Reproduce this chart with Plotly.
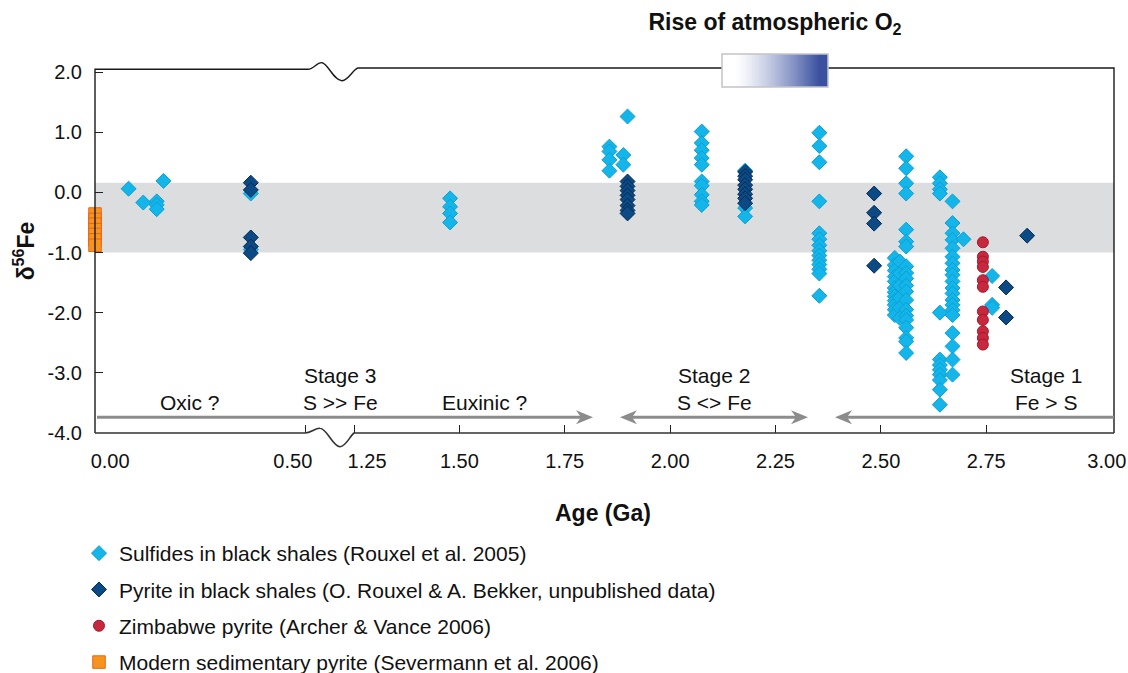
import plotly.graph_objects as go

FONT = "Liberation Sans, Arial, Helvetica, sans-serif"

# ---------------- data: age (Ga) and d56Fe (permil) ----------------
# Sulfides in black shales (Rouxel et al. 2005)
sulf_age = [0.080, 0.115, 0.147, 0.147, 0.147, 0.163, 0.371, 0.371,
            1.478, 1.478, 1.478, 1.478,
            1.856, 1.856, 1.856, 1.856, 1.889, 1.889, 1.899,
            2.075, 2.075, 2.075, 2.075, 2.075, 2.075, 2.075, 2.075, 2.075, 2.075,
            2.178, 2.178, 2.178,
            2.354, 2.354, 2.354, 2.354, 2.354, 2.354, 2.354, 2.354, 2.354, 2.354,
            2.354, 2.354, 2.354, 2.354,
            2.533, 2.533, 2.533, 2.533, 2.533, 2.533, 2.533, 2.533, 2.533, 2.533,
            2.533, 2.533,
            2.545, 2.545, 2.545, 2.545, 2.545, 2.545,
            2.560, 2.560, 2.560, 2.560, 2.560, 2.560, 2.560, 2.560, 2.560, 2.560,
            2.560, 2.560, 2.560, 2.560, 2.560, 2.560, 2.560, 2.560, 2.560, 2.560,
            2.640, 2.640, 2.640, 2.640, 2.640, 2.640, 2.640, 2.640, 2.640, 2.640,
            2.640, 2.640,
            2.670, 2.670, 2.670, 2.670, 2.670, 2.670, 2.670, 2.670, 2.670, 2.670,
            2.670, 2.670, 2.670, 2.670, 2.670, 2.670, 2.670, 2.670, 2.670, 2.670,
            2.696,
            2.764, 2.764, 2.764]
sulf_d56 = [0.06, -0.17, -0.15, -0.21, -0.28, 0.19, -0.02, -0.95,
            -0.10, -0.24, -0.35, -0.50,
            0.76, 0.68, 0.54, 0.36, 0.62, 0.46, 1.26,
            1.01, 0.82, 0.70, 0.57, 0.46, 0.18, 0.11, -0.04, -0.15, -0.21,
            0.36, -0.26, -0.40,
            0.99, 0.77, 0.50, -0.15, -0.68, -0.78, -0.88, -0.97, -1.05, -1.13,
            -1.20, -1.28, -1.35, -1.72,
            -1.09, -1.21, -1.30, -1.40, -1.48, -1.59, -1.66, -1.73, -1.80, -1.87,
            -1.95, -2.04,
            -1.15, -1.35, -1.55, -1.75, -1.92, -2.09,
            0.60, 0.40, 0.15, -0.02, -0.62, -0.82, -0.90, -1.23, -1.34, -1.43,
            -1.55, -1.65, -1.79, -1.95, -2.05, -2.12, -2.25, -2.42, -2.48, -2.67,
            0.25, 0.15, 0.05, -0.02, -2.00, -2.78, -2.87, -2.95, -3.03, -3.12,
            -3.28, -3.53,
            -0.15, -0.51, -0.68, -0.79, -0.93, -1.07, -1.18, -1.29, -1.37, -1.48,
            -1.59, -1.68, -1.79, -1.87, -1.96, -2.04, -2.34, -2.56, -2.78, -3.03,
            -0.78,
            -1.39, -1.87, -1.92]

# Pyrite in black shales (O. Rouxel & A. Bekker, unpublished data)
pyr_age = [0.371, 0.371, 0.371, 0.371, 0.371,
           1.899, 1.899, 1.899, 1.899, 1.899, 1.899, 1.899, 1.899,
           2.178, 2.178, 2.178, 2.178, 2.178, 2.178, 2.178, 2.178,
           2.484, 2.484, 2.484, 2.484,
           2.797, 2.797, 2.847]
pyr_d56 = [0.16, 0.04, -0.75, -0.90, -1.01,
           0.18, 0.10, 0.03, -0.05, -0.12, -0.22, -0.30, -0.35,
           0.34, 0.27, 0.21, 0.12, 0.05, -0.03, -0.10, -0.18,
           -0.02, -0.34, -0.52, -1.22,
           -1.58, -2.08, -0.72]

# Zimbabwe pyrite (Archer & Vance 2006)
zim_age = [2.742, 2.742, 2.742, 2.742, 2.742, 2.742, 2.742, 2.742, 2.742, 2.742, 2.742]
zim_d56 = [-0.83, -1.07, -1.15, -1.24, -1.46, -1.57, -1.98, -2.12, -2.31, -2.42, -2.53]

# Modern sedimentary pyrite (Severmann et al. 2006)
mod_age = [0.0, 0.0, 0.0, 0.0, 0.0, 0.0, 0.0]
mod_d56 = [-0.36, -0.45, -0.53, -0.62, -0.70, -0.79, -0.88]

# axis tick labels
y_ticks = [-4, -3, -2, -1, 0, 1, 2]
y_ticktext = ["-4.0", "-3.0", "-2.0", "-1.0", "0.0", "1.0", "2.0"]
xl_marks = [0.5]
xl_labelpos = [0.036, 0.471]
xl_labels = ["0.00", "0.50"]
xr_marks = [1.25, 1.50, 1.75, 2.00, 2.25, 2.50, 2.75]
xr_labelpos = [1.281, 1.50, 1.75, 2.00, 2.25, 2.50, 2.75, 3.036]
xr_labels = ["1.25", "1.50", "1.75", "2.00", "2.25", "2.50", "2.75", "3.00"]

# ---------------- geometry helpers (pixel -> paper) ----------------
W, H = 1128, 673
L, R, T, B = 95, 14, 69, 240
PW, PH = W - L - R, H - T - B


def px(x):
    return (x - L) / PW


def py(y):
    return (T + PH - y) / PH


BREAK_HI = 0.5
BREAK_LO = 1.25
XR_SCALE = 421.5  # px per Ga on the right-hand segment

series = [
    dict(name="Sulfides in black shales (Rouxel et al. 2005)", age=sulf_age, val=sulf_d56,
         marker=dict(symbol="diamond", size=11.5, color="#14b6e9",
                     line=dict(color="#0a9fd6", width=1))),
    dict(name="Pyrite in black shales (O. Rouxel & A. Bekker, unpublished data)", age=pyr_age,
         val=pyr_d56,
         marker=dict(symbol="diamond", size=11.5, color="#0b4a85",
                     line=dict(color="#042b52", width=1))),
    dict(name="Zimbabwe pyrite (Archer & Vance 2006)", age=zim_age, val=zim_d56,
         marker=dict(symbol="circle", size=11, color="#c8283d",
                     line=dict(color="#a01a2e", width=1))),
    dict(name="Modern sedimentary pyrite (Severmann et al. 2006)", age=mod_age, val=mod_d56,
         marker=dict(symbol="square", size=12.5, color="#f7941d",
                     line=dict(color="#e5641a", width=1))),
]

fig = go.Figure()
for s in series:
    shown = False
    for xa, keep in (("x", lambda a: a <= BREAK_HI), ("x2", lambda a: a >= BREAK_LO)):
        pts = [(a, v) for a, v in zip(s["age"], s["val"]) if keep(a)]
        if not pts:
            continue
        fig.add_trace(go.Scatter(
            x=[p[0] for p in pts], y=[p[1] for p in pts], mode="markers",
            xaxis=xa, yaxis="y", name=s["name"], legendgroup=s["name"],
            showlegend=not shown, marker=s["marker"], cliponaxis=False,
        ))
        shown = True

axis_common = dict(showgrid=False, zeroline=False, showline=False, anchor="y",
                   tickfont=dict(family=FONT, size=20, color="#111"),
                   ticks="", ticklabelstandoff=14, automargin=False)

fig.update_layout(
    width=W, height=H, autosize=False,
    margin=dict(l=L, r=R, t=T, b=B, pad=0, autoexpand=False),
    paper_bgcolor="white", plot_bgcolor="white",
    font=dict(family=FONT, color="#111"),
    title=dict(text="<b>Rise of atmospheric O<sub>2</sub></b>", x=px(775), xref="paper",
               xanchor="center", y=1 - 22 / H, yref="container", yanchor="middle",
               font=dict(family=FONT, size=23, color="#111")),
    showlegend=True,
    legend=dict(x=px(79), y=py(533), xanchor="left", yanchor="top",
                font=dict(family=FONT, size=21, color="#111"),
                tracegroupgap=6, bgcolor="rgba(0,0,0,0)", traceorder="grouped"),
    xaxis=dict(domain=[0, px(305)], range=[0, 0.5],
               tickmode="array", tickvals=xl_labelpos, ticktext=xl_labels,
               minor=dict(tickmode="array", tickvals=xl_marks, ticks="inside",
                          ticklen=8, tickwidth=1.2, tickcolor="#222"),
               **axis_common),
    xaxis2=dict(domain=[px(354), 1], range=[1.25, 1.25 + (1114 - 354) / XR_SCALE],
                tickmode="array", tickvals=xr_labelpos, ticktext=xr_labels,
                minor=dict(tickmode="array", tickvals=xr_marks, ticks="inside",
                           ticklen=8, tickwidth=1.2, tickcolor="#222"),
                **axis_common),
    yaxis=dict(range=[-4, 2.05], domain=[0, 1], showgrid=False, zeroline=False,
               showline=False, tickmode="array", tickvals=y_ticks, ticktext=y_ticktext,
               ticks="inside", ticklen=8, tickwidth=1.2, tickcolor="#222",
               tickfont=dict(family=FONT, size=20, color="#111"), ticklabelstandoff=12,
               automargin=False,
               title=dict(text="<b>δ<sup>56</sup>Fe</b>", standoff=6,
                          font=dict(family=FONT, size=23, color="#111"))),
)

shapes = []
# grey band
shapes.append(dict(type="rect", xref="paper", yref="y", x0=0, x1=1, y0=-1.0, y1=0.16,
                   fillcolor="#dcdddf", line=dict(width=0), layer="below"))


def P(x, y):
    return f"{px(x):.5f},{py(y):.5f}"


frame_col = "#1a1a1a"
top_path = (f"M{P(95, 433)} L{P(95, 69.3)} L{P(308, 69.3)} "
            f"C{P(314, 69)} {P(317, 62)} {P(322, 62.7)} "
            f"C{P(328, 63.5)} {P(334, 81)} {P(342, 80.7)} "
            f"C{P(349, 80.4)} {P(353, 69)} {P(358, 68)} L{P(722, 68)}")
shapes.append(dict(type="path", xref="paper", yref="paper", path=top_path,
                   line=dict(color=frame_col, width=1.4), layer="above"))
shapes.append(dict(type="path", xref="paper", yref="paper",
                   path=f"M{P(828, 68)} L{P(1114, 68)} L{P(1114, 433)}",
                   line=dict(color=frame_col, width=1.4), layer="above"))
bot_path = (f"M{P(95, 433)} L{P(305, 433)} "
            f"C{P(311, 433)} {P(315, 428)} {P(320, 428.3)} "
            f"C{P(327, 428.5)} {P(333, 447)} {P(340, 446.7)} "
            f"C{P(346, 446.5)} {P(350, 436)} {P(354, 433)} L{P(1114, 433)}")
shapes.append(dict(type="path", xref="paper", yref="paper", path=bot_path,
                   line=dict(color="#333", width=1.6), layer="above"))

# stage arrows (grey, barbed heads)
AR_Y = 417.3
AR_COL = "#8c8c8c"


def head(tip, direction):
    d = direction
    return (f"M{P(tip, AR_Y)} L{P(tip - d * 17, AR_Y - 7)} L{P(tip - d * 12, AR_Y)} "
            f"L{P(tip - d * 17, AR_Y + 7)} Z")


for x0, x1, left_head, right_head in [(97, 593, False, True), (620, 808, True, True),
                                      (835, 1114, True, False)]:
    a = x0 + (12 if left_head else 0)
    b = x1 - (12 if right_head else 0)
    shapes.append(dict(type="line", xref="paper", yref="paper", x0=px(a), x1=px(b),
                       y0=py(AR_Y), y1=py(AR_Y), line=dict(color=AR_COL, width=3),
                       layer="above"))
    if right_head:
        shapes.append(dict(type="path", xref="paper", yref="paper", path=head(x1, 1),
                           fillcolor=AR_COL, line=dict(width=0), layer="above"))
    if left_head:
        shapes.append(dict(type="path", xref="paper", yref="paper", path=head(x0, -1),
                           fillcolor=AR_COL, line=dict(width=0), layer="above"))

# "Rise of atmospheric O2" gradient box
bx0, bx1, by0, by1 = 722, 828, 54, 87
n = 60
blue = (58, 81, 160)
for i in range(n):
    t = (i + 0.5) / n
    f = max(0.0, min(1.0, (t - 0.12) / 0.8)) ** 1.3
    c = tuple(round(255 * (1 - f) + b * f) for b in blue)
    xa = bx0 + (bx1 - bx0) * i / n
    xb = min(bx1, bx0 + (bx1 - bx0) * (i + 1) / n + 1.0)
    shapes.append(dict(type="rect", xref="paper", yref="paper",
                       x0=px(xa), x1=px(xb), y0=py(by1), y1=py(by0),
                       fillcolor=f"rgb{c}", line=dict(width=0), layer="above"))
shapes.append(dict(type="rect", xref="paper", yref="paper", x0=px(bx0), x1=px(bx1),
                   y0=py(by1), y1=py(by0), fillcolor="rgba(0,0,0,0)",
                   line=dict(color="#c4c4c8", width=1.5), layer="above"))
fig.update_layout(shapes=shapes)

ann = []
stage_txt = [("Oxic ?", 190, 402.5), ("Stage 3", 340, 375.5), ("S >> Fe", 340, 402.5),
             ("Euxinic ?", 484, 402.5), ("Stage 2", 714, 375.5), ("S <> Fe", 714, 402.5),
             ("Stage 1", 1046, 375.5), ("Fe > S", 1046, 402.5)]
for txt, x, y in stage_txt:
    ann.append(dict(text=txt, x=px(x), y=py(y), xref="paper", yref="paper",
                    showarrow=False, xanchor="center", yanchor="middle",
                    font=dict(family=FONT, size=21, color="#111")))

ann.append(dict(text="<b>Age (Ga)</b>", x=px(603), y=py(513), xref="paper", yref="paper",
                showarrow=False, xanchor="center", yanchor="middle",
                font=dict(family=FONT, size=23, color="#111")))
fig.update_layout(annotations=ann)

post = ("document.body.style.margin='0px';document.body.style.padding='0px';"
        "document.body.style.overflow='hidden';")
fig.write_html("out.html", post_script=post,
               config={"responsive": False, "displayModeBar": False})
